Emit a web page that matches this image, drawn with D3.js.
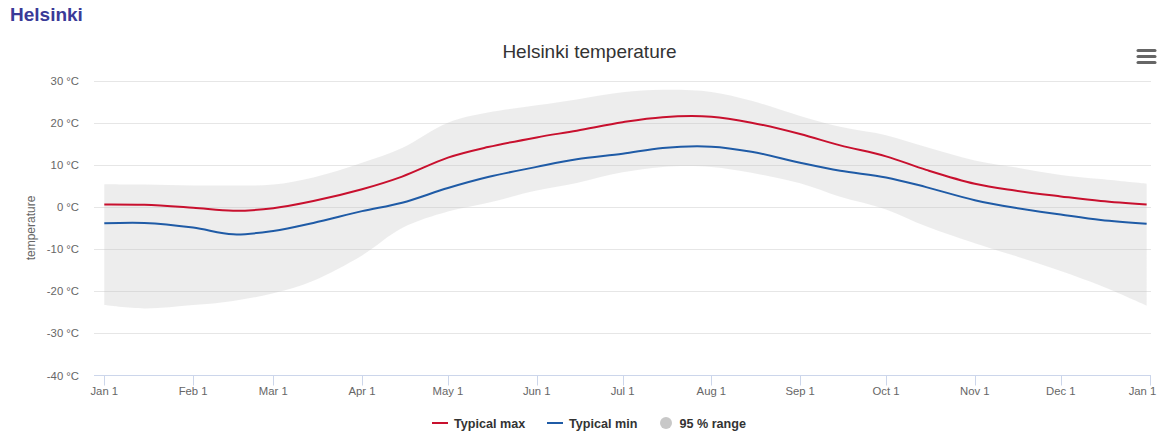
<!DOCTYPE html>
<html>
<head>
<meta charset="utf-8">
<script src="https://cdn.jsdelivr.net/npm/d3@7"></script>
<style>
  html, body { margin: 0; padding: 0; background: #fff; }
  svg { display: block; }
  text { font-family: "Liberation Sans", Arial, Helvetica, sans-serif; }
</style>
</head>
<body>
<svg id="chart" width="1158" height="433"></svg>
<script>
// ---- data ----
const dates = ["2023-01-01","2023-01-15","2023-02-01","2023-02-15","2023-03-01","2023-03-15",
  "2023-04-01","2023-04-15","2023-05-01","2023-05-15","2023-06-01","2023-06-15",
  "2023-07-01","2023-07-15","2023-08-01","2023-08-15","2023-09-01","2023-09-15",
  "2023-10-01","2023-10-15","2023-11-01","2023-11-15","2023-12-01","2023-12-15","2023-12-31"];
const typicalMax = [0.6,0.5,-0.2,-0.9,-0.3,1.4,4.2,7.2,11.7,14.2,16.5,18.1,20.1,21.3,21.4,20.0,17.3,14.6,12.0,8.8,5.5,3.9,2.5,1.4,0.6];
const typicalMin = [-3.9,-3.8,-4.9,-6.5,-5.7,-3.8,-1.0,1.0,4.5,7.1,9.5,11.3,12.6,14.0,14.3,13.1,10.5,8.6,7.0,4.7,1.6,-0.2,-1.8,-3.1,-4.0];
const rangeHigh = [5.4,5.3,5.1,5.1,5.3,7.0,10.5,14.0,20.0,22.4,24.1,25.5,27.2,27.8,27.3,25.2,21.6,19.0,17.0,14.2,11.0,9.4,7.6,6.6,5.5];
const rangeLow = [-23.3,-24.1,-23.3,-22.3,-20.5,-17.5,-11.5,-5.0,-1.1,1.0,3.9,5.7,8.2,9.5,9.5,8.1,5.6,2.4,-0.6,-4.6,-8.6,-11.6,-15.2,-18.7,-23.4];
const yTicks = [-40,-30,-20,-10,0,10,20,30];
const xTickDates = ["2023-01-01","2023-02-01","2023-03-01","2023-04-01","2023-05-01","2023-06-01",
  "2023-07-01","2023-08-01","2023-09-01","2023-10-01","2023-11-01","2023-12-01","2024-01-01"];
const pageTitle = "Helsinki";
const chartTitle = "Helsinki temperature";
const yTitle = "temperature";
const seriesNames = ["Typical max","Typical min","95 % range"];
const colors = { max: "#c8102e", min: "#1f5ba6", range: "#c2c2c2" };

// ---- layout ----
const svg = d3.select("#chart");
const parse = d3.utcParse("%Y-%m-%d");
const plotLeft = 94, plotRight = 1151, plotTop = 80.5, plotBottom = 375.5;

const x = d3.scaleUtc()
  .domain([parse("2023-01-01"), parse("2024-01-01")])
  .range([104.3, 1149.5]);
const y = d3.scaleLinear().domain([-40, 30]).range([plotBottom, plotTop]);

const data = dates.map((d, i) => ({
  date: parse(d), max: typicalMax[i], min: typicalMin[i], hi: rangeHigh[i], lo: rangeLow[i]
}));

// page heading
svg.append("text").attr("x", 10).attr("y", 20.5)
  .attr("font-size", 19).attr("font-weight", "bold").attr("fill", "#3a3a98")
  .text(pageTitle);

// chart title
svg.append("text").attr("x", 589.5).attr("y", 58)
  .attr("text-anchor", "middle").attr("font-size", 19).attr("fill", "#333")
  .text(chartTitle);

// menu icon
[50.5, 56.5, 62.5].forEach(yy => {
  svg.append("line").attr("x1", 1138).attr("x2", 1155).attr("y1", yy).attr("y2", yy)
    .attr("stroke", "#666").attr("stroke-width", 3).attr("stroke-linecap", "round");
});

// gridlines
svg.append("g").selectAll("line").data(yTicks.filter(t => t !== -40)).join("line")
  .attr("x1", plotLeft).attr("x2", plotRight)
  .attr("y1", d => Math.round(y(d)) + 0.5).attr("y2", d => Math.round(y(d)) + 0.5)
  .attr("stroke", "#e6e6e6").attr("stroke-width", 1);

// y labels
svg.append("g").selectAll("text").data(yTicks).join("text")
  .attr("x", 79).attr("y", d => y(d) + 4)
  .attr("text-anchor", "end").attr("font-size", 11.3).attr("fill", "#666")
  .text(d => d + " °C");

// y title
svg.append("text")
  .attr("transform", `translate(35,${(plotTop + plotBottom) / 2}) rotate(-90)`)
  .attr("text-anchor", "middle").attr("font-size", 12).attr("fill", "#666")
  .text(yTitle);

// range band
const curve = d3.curveCatmullRom.alpha(0.5);
const area = d3.area().curve(curve)
  .x(d => x(d.date)).y0(d => y(d.lo)).y1(d => y(d.hi));
svg.append("path").datum(data).attr("d", area)
  .attr("fill", colors.range).attr("fill-opacity", 0.3);

// lines
const lineMax = d3.line().curve(curve).x(d => x(d.date)).y(d => y(d.max));
const lineMin = d3.line().curve(curve).x(d => x(d.date)).y(d => y(d.min));
svg.append("path").datum(data).attr("d", lineMax)
  .attr("fill", "none").attr("stroke", colors.max).attr("stroke-width", 2);
svg.append("path").datum(data).attr("d", lineMin)
  .attr("fill", "none").attr("stroke", colors.min).attr("stroke-width", 2);

// x axis
const xAxisG = svg.append("g");
xAxisG.append("line").attr("x1", plotLeft).attr("x2", plotRight)
  .attr("y1", plotBottom).attr("y2", plotBottom).attr("stroke", "#ccd6eb");
const fmt = d3.utcFormat("%b %-d");
const ticks = xTickDates.map(parse);
xAxisG.selectAll("line.tick").data(ticks).join("line").attr("class", "tick")
  .attr("x1", d => Math.round(x(d)) + 0.5).attr("x2", d => Math.round(x(d)) + 0.5)
  .attr("y1", plotBottom).attr("y2", plotBottom + 10).attr("stroke", "#ccd6eb");
xAxisG.selectAll("text").data(ticks).join("text")
  .attr("x", d => Math.min(x(d), 1142.5)).attr("y", 395)
  .attr("text-anchor", "middle").attr("font-size", 11.3).attr("fill", "#666")
  .text(d => fmt(d));

// legend
const leg = svg.append("g");
const legY = 423;
leg.append("line").attr("x1", 432).attr("x2", 448).attr("y1", legY).attr("y2", legY)
  .attr("stroke", colors.max).attr("stroke-width", 2);
leg.append("text").attr("x", 454).attr("y", legY + 4.5).attr("font-size", 12.6)
  .attr("font-weight", "bold").attr("fill", "#333").text(seriesNames[0]);
leg.append("line").attr("x1", 547).attr("x2", 563).attr("y1", legY).attr("y2", legY)
  .attr("stroke", colors.min).attr("stroke-width", 2);
leg.append("text").attr("x", 569).attr("y", legY + 4.5).attr("font-size", 12.6)
  .attr("font-weight", "bold").attr("fill", "#333").text(seriesNames[1]);
leg.append("circle").attr("cx", 666).attr("cy", legY).attr("r", 6)
  .attr("fill", "#c8c8c8");
leg.append("text").attr("x", 679.5).attr("y", legY + 4.5).attr("font-size", 12.6)
  .attr("font-weight", "bold").attr("fill", "#333").text(seriesNames[2]);
</script>
</body>
</html>
